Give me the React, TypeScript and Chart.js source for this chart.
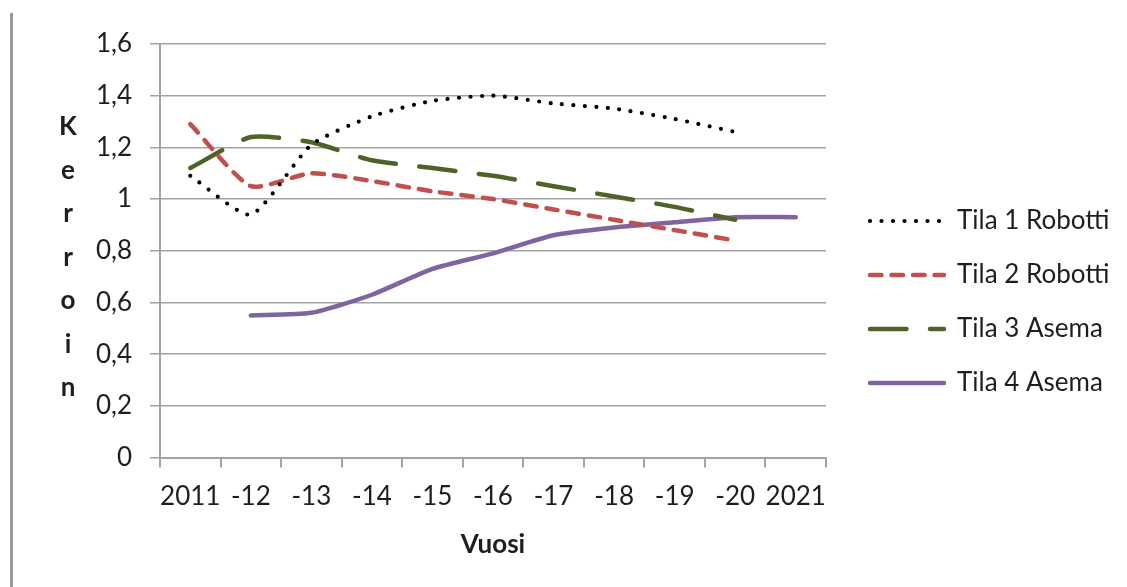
import React, { useEffect, useRef } from "react";
import { Chart, registerables } from "chart.js";

Chart.register(...registerables);

const categories = ["2011", "-12", "-13", "-14", "-15", "-16", "-17", "-18", "-19", "-20", "2021"];
const tila1Robotti = [1.09, 0.94, 1.21, 1.32, 1.38, 1.40, 1.37, 1.35, 1.31, 1.26, null];
const tila2Robotti = [1.29, 1.05, 1.10, 1.07, 1.03, 1.00, 0.96, 0.92, 0.88, 0.84, null];
const tila3Asema = [1.12, 1.24, 1.22, 1.15, 1.12, 1.09, 1.05, 1.01, 0.97, 0.92, null];
const tila4Asema = [null, 0.55, 0.56, 0.63, 0.73, 0.79, 0.86, 0.89, 0.91, 0.93, 0.93];
const seriesNames = ["Tila 1 Robotti", "Tila 2 Robotti", "Tila 3 Asema", "Tila 4 Asema"];
const yTickLabels = ["0", "0,2", "0,4", "0,6", "0,8", "1", "1,2", "1,4", "1,6"];
const yTitle = "Kerroin";
const xTitle = "Vuosi";

const FONT = "Lato";
const FS = 26;
const GRID = "#a3a3a3";
const TEXT = "#1e1e1e";
const LEGEND_WIDTH = 285;

const decorPlugin = {
  id: "decor",
  afterInit(chart: any) {
    const legend = chart.legend;
    if (legend && !legend.__fixedWidth) {
      const orig = legend.fit.bind(legend);
      legend.fit = function () {
        orig();
        this.width = LEGEND_WIDTH;
      };
      legend.__fixedWidth = true;
    }
  },
  beforeDraw(chart: any) {
    const ctx = chart.ctx;
    ctx.save();
    ctx.fillStyle = "#ffffff";
    ctx.fillRect(0, 0, chart.width, chart.height);
    ctx.fillStyle = "#9a9a9a";
    ctx.fillRect(10, 13, 3, chart.height - 13);
    ctx.restore();
  },
  afterDraw(chart: any) {
    const ctx = chart.ctx;
    const top = chart.chartArea.top;
    ctx.save();
    ctx.font = `bold ${FS}px ${FONT}`;
    ctx.fillStyle = TEXT;
    ctx.textAlign = "center";
    ctx.textBaseline = "alphabetic";
    yTitle.split("").forEach((ch, i) => {
      ctx.fillText(ch, 68, top + 91 + i * 43.5);
    });
    ctx.restore();
  },
};

export default function App() {
  const ref = useRef<HTMLCanvasElement>(null);
  useEffect(() => {
    const canvas = ref.current!;
    const mk = (i: number, data: any[], color: string, width: number, dash: number[]) => ({
      label: seriesNames[i],
      data,
      borderColor: color,
      backgroundColor: color,
      borderWidth: width,
      borderDash: dash,
      borderCapStyle: "round",
      borderJoinStyle: "round",
      pointRadius: 0,
      pointHoverRadius: 0,
      tension: 0.2,
      fill: false,
      spanGaps: false,
    });
    const chart = new Chart(canvas, {
      type: "line",
      data: {
        labels: categories,
        datasets: [
          mk(0, tila1Robotti, "#000000", 4.2, [0, 11.5]),
          mk(1, tila2Robotti, "#C0504D", 4.5, [11.5, 10]),
          mk(2, tila3Asema, "#4F6228", 4.5, [36.5, 23.5]),
          mk(3, tila4Asema, "#8064A2", 4.5, []),
        ] as any,
      },
      options: {
        responsive: false,
        animation: false,
        events: [],
        layout: { padding: { left: 0, top: 44, right: 0, bottom: 27 } },
        plugins: {
          tooltip: { enabled: false },
          title: { display: false },
          legend: {
            display: true,
            position: "right",
            align: "center",
            labels: {
              usePointStyle: true,
              pointStyle: "line",
              pointStyleWidth: 74,
              padding: 28,
              color: TEXT,
              font: { family: FONT, size: FS },
              generateLabels: (ch: any) =>
                ch.data.datasets.map((ds: any, i: number) => ({
                  text: ds.label,
                  fillStyle: "rgba(0,0,0,0)",
                  strokeStyle: ds.borderColor,
                  lineWidth: ds.borderWidth,
                  lineDash: ds.borderDash,
                  lineCap: ds.borderCapStyle,
                  lineJoin: "round",
                  pointStyle: "line",
                  hidden: false,
                  fontColor: TEXT,
                  datasetIndex: i,
                })),
            },
          },
        },
        scales: {
          x: {
            type: "category",
            offset: true,
            grid: {
              display: true,
              offset: true,
              drawOnChartArea: false,
              drawTicks: true,
              tickLength: 10,
              color: GRID,
              lineWidth: 2,
            },
            border: { display: true, color: GRID, width: 2 },
            ticks: {
              color: TEXT,
              font: { family: FONT, size: FS },
              padding: 13,
              maxRotation: 0,
              autoSkip: false,
            },
            title: {
              display: true,
              text: xTitle,
              color: TEXT,
              font: { family: FONT, size: FS, weight: "bold" },
              padding: { top: 4, bottom: 0 },
            },
          },
          y: {
            min: 0,
            max: 1.6,
            position: "left",
            grid: {
              display: true,
              drawOnChartArea: true,
              drawTicks: true,
              tickLength: 10,
              color: GRID,
              lineWidth: 1.5,
            },
            border: { display: true, color: GRID, width: 2 },
            ticks: {
              stepSize: 0.2,
              color: TEXT,
              font: { family: FONT, size: FS },
              padding: 18,
              callback: (_v: any, i: number) => yTickLabels[i],
            },
            afterFit: (s: any) => {
              s.width = 160;
            },
          },
          y2: {
            position: "right",
            display: true,
            grid: { display: false, drawTicks: false },
            border: { display: false },
            ticks: { display: false },
            afterFit: (s: any) => {
              s.width = 16;
            },
          },
        },
      } as any,
      plugins: [decorPlugin],
    });
    return () => chart.destroy();
  }, []);
  return (
    <div style={{ position: "absolute", left: 0, top: 0, width: 1127, height: 587, background: "#fff" }}>
      <canvas ref={ref} width={1127} height={587} style={{ display: "block" }} />
    </div>
  );
}
